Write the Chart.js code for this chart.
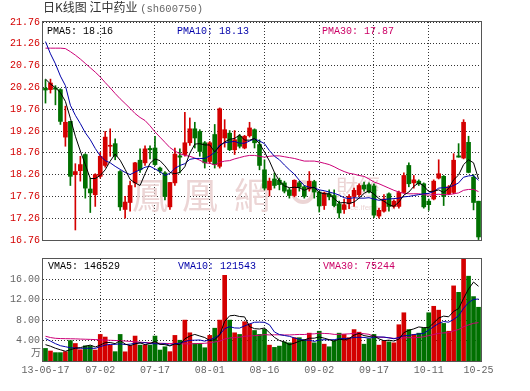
<!DOCTYPE html>
<html>
<head>
<meta charset="utf-8">
<title>日K线图 江中药业 (sh600750)</title>
<style>
  body { margin: 0; background: #fff; }
  .chart { position: relative; width: 530px; height: 391px; overflow: hidden; }
  .chart canvas { position: absolute; left: 0; }
  #price-chart { top: 0; }
  #vol-chart { top: 250px; }
  .label { position: absolute; font: 10px "Liberation Mono", monospace; line-height: 10px; white-space: pre; }
  .title { position: absolute; left: 43px; top: 0; font: 12px "Noto Sans CJK SC"; line-height: 13px; color: #333; white-space: pre; }
  .title span { font: 10.5px "Liberation Mono", monospace; color: #666; }
</style>
</head>
<body>
<div class="chart">
  <canvas id="price-chart" width="530" height="250"></canvas>
  <canvas id="vol-chart" width="530" height="141"></canvas>
  <div class="title">日K线图 江中药业 <span>(sh600750)</span></div>
  <div class="label" id="pma5" style="left:47px;top:27px;color:#000"></div>
  <div class="label" id="pma10" style="left:177px;top:27px;color:#0000aa"></div>
  <div class="label" id="pma30" style="left:322px;top:27px;color:#cc0066"></div>
  <div class="label" id="vma5" style="left:48px;top:262px;color:#000"></div>
  <div class="label" id="vma10" style="left:178px;top:262px;color:#0000aa"></div>
  <div class="label" id="vma30" style="left:323px;top:262px;color:#cc0066"></div>
</div>

<script src="https://cdn.jsdelivr.net/npm/chart.js"></script>
<script>
  // trading days, 2013-06-17 .. 2013-10-25
  const dates = [
    '06-17','06-18','06-19','06-20','06-21','06-24','06-25','06-26','06-27','06-28','07-01',
    '07-02','07-03','07-04','07-05','07-08','07-09','07-10','07-11','07-12','07-15','07-16',
    '07-17','07-18','07-19','07-22','07-23','07-24','07-25','07-26','07-29','07-30','07-31',
    '08-01','08-02','08-05','08-06','08-07','08-08','08-09','08-12','08-13','08-14','08-15',
    '08-16','08-19','08-20','08-21','08-22','08-23','08-26','08-27','08-28','08-29','08-30',
    '09-02','09-03','09-04','09-05','09-06','09-09','09-10','09-11','09-12','09-13','09-16',
    '09-17','09-18','09-23','09-24','09-25','09-26','09-27','09-30','10-08','10-09','10-10',
    '10-11','10-14','10-15','10-16','10-17','10-18','10-21','10-22','10-23','10-24','10-25'
  ];

  const open = [
    20.24, 20.21, 20.25, 20.21, 19.12, 19.48, 18.26, 18.35, 18.72, 17.93, 17.80,
    18.22, 18.47, 18.91, 18.97, 18.33, 17.46, 17.62, 18.07, 18.59, 18.53, 18.86,
    18.87, 18.41, 18.30, 17.52, 18.07, 18.69, 18.72, 18.99, 19.31, 19.25, 18.99,
    18.56, 19.18, 18.45, 19.10, 19.21, 18.83, 19.14, 18.87, 19.15, 19.29, 18.95,
    18.37, 17.91, 18.16, 18.13, 18.07, 17.91, 17.78, 18.07, 17.98, 17.93, 18.10,
    17.86, 17.55, 17.82, 17.78, 17.59, 17.46, 17.59, 17.76, 17.80, 18.02, 18.03,
    18.00, 17.31, 17.42, 17.82, 17.53, 17.53, 17.85, 18.47, 18.07, 18.11, 18.05,
    17.65, 17.70, 18.18, 18.22, 17.82, 17.85, 18.69, 18.64, 19.00, 18.20, 17.65
  ];
  const high = [
    20.44, 20.45, 20.30, 20.23, 19.83, 19.48, 18.51, 18.68, 18.74, 18.18, 18.28,
    18.77, 19.25, 19.31, 19.08, 18.35, 17.76, 18.11, 18.54, 18.85, 18.92, 18.92,
    19.14, 18.43, 18.33, 18.08, 18.87, 18.85, 19.69, 19.56, 19.46, 19.29, 19.02,
    19.02, 19.41, 19.79, 19.52, 19.27, 19.27, 19.18, 19.16, 19.46, 19.31, 19.06,
    18.60, 18.18, 18.30, 18.18, 18.11, 17.95, 18.14, 18.11, 18.01, 18.33, 18.13,
    17.88, 17.86, 17.91, 17.91, 17.65, 17.70, 17.80, 17.95, 18.05, 18.09, 18.07,
    18.05, 17.49, 17.80, 17.84, 17.68, 17.88, 18.30, 18.53, 18.24, 18.14, 18.07,
    17.70, 18.14, 18.60, 18.24, 18.01, 18.74, 18.97, 19.52, 19.14, 18.26, 17.65
  ];
  const low = [
    19.90, 20.13, 19.86, 19.41, 18.91, 18.01, 16.99, 18.11, 17.72, 17.39, 17.53,
    18.18, 18.43, 18.68, 18.60, 17.44, 17.26, 17.42, 17.98, 18.31, 18.47, 18.62,
    18.47, 18.30, 17.68, 17.46, 18.01, 18.30, 18.68, 18.93, 18.87, 18.68, 18.41,
    18.51, 18.41, 18.41, 18.89, 18.81, 18.72, 18.87, 18.85, 19.12, 18.87, 18.37,
    17.91, 17.77, 17.95, 17.91, 17.84, 17.72, 17.75, 17.88, 17.72, 17.88, 17.72,
    17.40, 17.46, 17.68, 17.52, 17.26, 17.37, 17.48, 17.53, 17.76, 17.88, 17.84,
    17.28, 17.26, 17.40, 17.42, 17.49, 17.49, 17.84, 17.98, 17.95, 18.01, 17.49,
    17.44, 17.68, 18.16, 17.55, 17.80, 17.82, 18.66, 18.62, 18.30, 17.45, 16.77
  ];
  const close = [
    20.20, 20.36, 20.22, 19.48, 19.46, 18.22, 18.33, 18.49, 17.95, 17.84, 18.26,
    18.68, 19.12, 18.93, 18.68, 17.52, 17.63, 18.01, 18.53, 18.37, 18.85, 18.83,
    18.49, 18.34, 17.76, 18.08, 18.73, 18.66, 18.99, 19.31, 19.10, 18.79, 18.53,
    18.99, 18.49, 19.77, 19.29, 18.83, 19.06, 18.91, 19.14, 19.33, 18.99, 18.47,
    17.95, 18.11, 18.01, 18.03, 17.88, 17.78, 18.13, 17.97, 17.76, 18.11, 17.86,
    17.54, 17.84, 17.75, 17.55, 17.38, 17.57, 17.76, 17.90, 18.01, 17.93, 17.86,
    17.33, 17.44, 17.70, 17.53, 17.65, 17.85, 18.24, 18.05, 18.14, 18.05, 17.52,
    17.57, 18.11, 18.28, 17.76, 17.98, 18.59, 18.66, 19.46, 18.31, 17.62, 16.83
  ];

  // moving averages
  const ma5 = [
    20.45, 20.34, 20.25, 20.14, 19.94, 19.55, 19.14, 18.80, 18.49, 18.17, 18.17,
    18.24, 18.37, 18.57, 18.73, 18.59, 18.38, 18.15, 18.07, 18.01, 18.28, 18.52,
    18.62, 18.58, 18.46, 18.31, 18.28, 18.31, 18.44, 18.75, 18.96, 18.97, 18.94,
    18.94, 18.78, 18.91, 19.01, 19.07, 19.09, 19.17, 19.05, 19.05, 19.09, 18.97,
    18.78, 18.57, 18.31, 18.11, 18.00, 17.96, 17.97, 17.96, 17.90, 17.95, 17.97,
    17.85, 17.82, 17.82, 17.71, 17.61, 17.62, 17.60, 17.63, 17.72, 17.83, 17.89,
    17.81, 17.71, 17.65, 17.57, 17.53, 17.63, 17.79, 17.86, 17.99, 18.07, 18.00,
    17.87, 17.88, 17.91, 17.85, 17.94, 18.14, 18.25, 18.49, 18.60, 18.53, 18.16
  ];
  const ma10 = [
    21.31, 21.03, 20.80, 20.52, 20.30, 19.85, 19.62, 19.43, 19.22, 19.06, 18.86,
    18.69, 18.58, 18.53, 18.45, 18.38, 18.31, 18.26, 18.32, 18.37, 18.43, 18.45,
    18.39, 18.33, 18.24, 18.29, 18.40, 18.47, 18.51, 18.61, 18.63, 18.63, 18.63,
    18.69, 18.77, 18.94, 18.99, 19.01, 19.02, 18.98, 18.98, 19.03, 19.08, 19.03,
    18.97, 18.81, 18.68, 18.60, 18.48, 18.37, 18.27, 18.13, 18.01, 17.97, 17.96,
    17.91, 17.89, 17.86, 17.83, 17.79, 17.73, 17.71, 17.73, 17.72, 17.72, 17.73,
    17.70, 17.67, 17.69, 17.70, 17.71, 17.72, 17.75, 17.76, 17.78, 17.80, 17.82,
    17.83, 17.87, 17.95, 17.96, 17.97, 18.01, 18.07, 18.20, 18.23, 18.24, 18.13
  ];
  const ma30 = [
    21.16, 21.16, 21.16, 21.16, 21.15, 21.08, 21.00, 20.91, 20.81, 20.71, 20.61,
    20.50, 20.37, 20.25, 20.12, 20.00, 19.89, 19.78, 19.66, 19.57, 19.50, 19.38,
    19.24, 19.12, 19.00, 18.88, 18.80, 18.74, 18.70, 18.68, 18.64, 18.59, 18.53,
    18.52, 18.48, 18.54, 18.57, 18.58, 18.62, 18.65, 18.68, 18.70, 18.70, 18.68,
    18.66, 18.68, 18.69, 18.69, 18.67, 18.65, 18.63, 18.60, 18.57, 18.57, 18.57,
    18.55, 18.52, 18.49, 18.44, 18.38, 18.33, 18.29, 18.27, 18.24, 18.22, 18.16,
    18.09, 18.05, 18.00, 17.95, 17.90, 17.86, 17.83, 17.82, 17.82, 17.82, 17.80,
    17.79, 17.80, 17.81, 17.80, 17.80, 17.82, 17.84, 17.90, 17.92, 17.92, 17.87
  ];

  // volume, in 万 (10k)
  const vol = [
    2.47, 1.96, 1.64, 1.64, 1.83, 4.00, 3.43, 2.21, 2.98, 2.98, 2.15,
    5.21, 4.70, 3.11, 1.83, 5.21, 1.80, 2.98, 4.89, 3.11, 3.11, 3.11,
    4.89, 2.15, 2.79, 1.83, 5.02, 4.07, 8.02, 5.53, 3.43, 3.43, 2.60,
    5.02, 6.43, 8.02, 16.80, 8.02, 5.53, 5.21, 7.70, 7.26, 5.98, 5.21,
    6.20, 3.11, 2.67, 2.92, 3.75, 3.56, 4.57, 4.57, 4.19, 5.46, 3.56,
    5.84, 3.30, 2.79, 3.94, 5.46, 5.21, 4.57, 6.16, 5.65, 3.30, 4.38,
    5.21, 3.11, 3.94, 3.75, 3.56, 7.11, 9.46, 6.16, 5.21, 5.46, 6.48,
    9.46, 10.73, 9.97, 7.37, 5.84, 14.73, 13.46, 19.94, 16.63, 12.63, 10.54
  ];
  const vma5 = [
    3.20, 2.90, 2.50, 2.20, 1.91, 2.21, 2.51, 2.62, 2.89, 3.12, 2.75,
    3.11, 3.60, 3.63, 3.40, 4.01, 3.33, 2.99, 3.34, 3.60, 3.18, 3.44,
    3.82, 3.27, 3.21, 2.95, 3.34, 3.17, 4.35, 4.89, 5.21, 4.90, 4.60,
    4.00, 4.18, 5.10, 7.77, 8.86, 8.96, 8.72, 8.65, 6.74, 6.34, 6.27,
    6.47, 5.55, 4.63, 4.02, 3.73, 3.20, 3.49, 3.87, 4.13, 4.47, 4.47,
    4.72, 4.47, 4.19, 3.89, 4.27, 4.14, 4.39, 5.07, 5.41, 4.98, 4.81,
    4.94, 4.33, 3.99, 4.08, 3.91, 4.29, 5.56, 6.01, 6.30, 6.68, 6.55,
    6.55, 7.47, 8.42, 8.80, 8.67, 9.73, 10.27, 12.27, 14.12, 15.48, 14.65
  ];
  const vma10 = [
    4.40, 3.90, 3.40, 3.00, 2.80, 2.60, 2.55, 2.50, 2.50, 2.51, 2.48,
    2.81, 3.11, 3.26, 3.26, 3.38, 3.22, 3.30, 3.49, 3.50, 3.60, 3.39,
    3.40, 3.31, 3.40, 3.07, 3.39, 3.50, 3.81, 4.05, 4.08, 4.12, 3.89,
    4.17, 4.54, 5.16, 6.34, 6.73, 6.48, 6.45, 6.88, 7.26, 7.60, 7.62,
    7.59, 7.10, 5.69, 5.18, 5.00, 4.84, 4.52, 4.25, 4.08, 4.10, 3.84,
    4.11, 4.17, 4.16, 4.18, 4.37, 4.43, 4.43, 4.63, 4.65, 4.62, 4.48,
    4.67, 4.70, 4.70, 4.53, 4.36, 4.62, 4.95, 5.00, 5.19, 5.30, 5.42,
    6.06, 6.74, 7.36, 7.74, 7.61, 8.14, 8.87, 10.34, 11.46, 12.08, 12.15
  ];
  const vma30 = [
    4.85, 4.60, 4.45, 4.40, 4.38, 4.36, 4.34, 4.30, 4.27, 4.24, 4.20,
    4.15, 4.10, 4.06, 4.02, 3.98, 3.92, 3.85, 3.78, 3.70, 3.62, 3.57,
    3.52, 3.48, 3.45, 3.42, 3.40, 3.38, 3.37, 3.36, 3.39, 3.44, 3.47,
    3.58, 3.73, 3.87, 4.31, 4.51, 4.59, 4.67, 4.85, 4.92, 4.96, 5.03,
    5.18, 5.11, 5.14, 5.14, 5.10, 5.11, 5.16, 5.21, 5.19, 5.30, 5.32,
    5.46, 5.40, 5.36, 5.22, 5.22, 5.28, 5.32, 5.43, 5.45, 5.35, 5.23,
    4.84, 4.68, 4.63, 4.58, 4.44, 4.43, 4.55, 4.58, 4.55, 4.63, 4.75,
    4.97, 5.21, 5.42, 5.51, 5.55, 5.91, 6.17, 6.72, 7.08, 7.39, 7.52
  ];

  const priceTicks = [16.76, 17.26, 17.76, 18.26, 18.76, 19.26, 19.76, 20.26, 20.76, 21.26, 21.76];
  const volTicks = [4, 8, 12, 16];
  const tickIdx = [0, 11, 22, 33, 44, 55, 66, 77, 87];
  const tickText = ['13-06-17', '07-02', '07-17', '08-01', '08-16', '09-02', '09-17', '10-11', '10-25'];
  const priceLegend = ['18.16', '18.13', '17.87'];
  const volLegend = ['146529', '121543', '75244'];

  [open, high, low, close, ma5, ma10, ma30, vol, vma5, vma10, vma30].forEach((a, k) => {
    if (a.length !== dates.length) throw new Error('series ' + k + ' has ' + a.length + ' values');
  });

  const RED = '#d40000', GREEN = '#007000';
  const C5 = '#000000', C10 = '#0000aa', C30 = '#cc0077';
  const GRID = '#333';
  const MONO = 'Liberation Mono';
  const candleColor = close.map((c, i) => c >= open[i] ? RED : GREEN);
  const gridIdx = tickIdx.slice(1, -1);

  document.getElementById('pma5').textContent = 'PMA5: ' + priceLegend[0];
  document.getElementById('pma10').textContent = 'PMA10: ' + priceLegend[1];
  document.getElementById('pma30').textContent = 'PMA30: ' + priceLegend[2];
  document.getElementById('vma5').textContent = 'VMA5: ' + volLegend[0];
  document.getElementById('vma10').textContent = 'VMA10: ' + volLegend[1];
  document.getElementById('vma30').textContent = 'VMA30: ' + volLegend[2];

  const frame = {
    id: 'frame',
    afterDatasetsDraw(chart) {
      const { ctx, chartArea: a } = chart;
      ctx.save();
      ctx.strokeStyle = '#555';
      ctx.lineWidth = 1;
      ctx.strokeRect(Math.round(a.left) - 0.5, Math.round(a.top) - 0.5,
        Math.round(a.right - a.left) + 1, Math.round(a.bottom - a.top) + 1);
      ctx.restore();
    }
  };

  const watermark = {
    id: 'watermark',
    beforeDatasetsDraw(chart) {
      const ctx = chart.ctx;
      ctx.save();
      ctx.fillStyle = '#ecd5d5';
      ctx.strokeStyle = '#ecd5d5';
      ctx.textAlign = 'center';
      ctx.textBaseline = 'middle';
      ctx.font = '36px "Noto Sans CJK TC"';
      ctx.fillText('鳳', 150, 195);
      ctx.fillText('凰', 200, 195);
      ctx.fillText('網', 252, 195);
      ctx.lineWidth = 4;
      ctx.beginPath();
      ctx.arc(303, 192, 10, 0, Math.PI * 2);
      ctx.stroke();
      ctx.font = '22px "Noto Sans CJK TC"';
      ctx.fillText('財經', 358, 187);
      ctx.font = '8px "Liberation Sans"';
      ctx.fillText('finance.ifeng.com', 364, 208);
      ctx.restore();
    }
  };

  const xGrid = {
    offset: false,
    drawTicks: false,
    color: ctx => gridIdx.includes(ctx.index) ? GRID : 'rgba(0,0,0,0)'
  };
  const line = (data, color) => ({
    type: 'line', data, borderColor: color, borderWidth: 1,
    pointRadius: 0, tension: 0, order: 0
  });

  new Chart(document.getElementById('price-chart'), {
    type: 'bar',
    data: {
      labels: dates,
      datasets: [
        line(ma5, C5),
        line(ma10, C10),
        line(ma30, C30),
        {
          data: open.map((o, i) => [o, close[i]]),
          backgroundColor: candleColor,
          barThickness: 4, minBarLength: 1, grouped: false, order: 2
        },
        {
          data: low.map((l, i) => [l, high[i]]),
          backgroundColor: candleColor,
          barThickness: 1, grouped: false, order: 3
        }
      ]
    },
    options: {
      responsive: false,
      animation: false,
      devicePixelRatio: 1,
      layout: { padding: { left: 0, right: 49, top: 22, bottom: 10 } },
      plugins: { legend: { display: false }, tooltip: { enabled: false } },
      scales: {
        x: {
          offset: true,
          grid: xGrid,
          border: { display: false, dash: [1, 2] },
          ticks: { display: false, autoSkip: false },
          afterFit: s => { s.height = 0; }
        },
        y: {
          min: 16.76, max: 21.76,
          afterBuildTicks: s => { s.ticks = priceTicks.map(v => ({ value: v })); },
          ticks: { color: RED, font: { family: MONO, size: 10 }, padding: 3, callback: v => v.toFixed(2) },
          grid: { color: GRID, drawTicks: false },
          border: { display: false, dash: [1, 2] },
          afterFit: s => { s.width = 43; }
        }
      }
    },
    plugins: [watermark, frame]
  });

  const unitLabel = {
    id: 'unitLabel',
    afterDraw(chart) {
      const ctx = chart.ctx;
      ctx.save();
      ctx.fillStyle = '#666';
      ctx.font = '10px "Noto Sans CJK SC"';
      ctx.textAlign = 'right';
      ctx.textBaseline = 'middle';
      ctx.fillText('万', 41, chart.chartArea.bottom - 9);
      ctx.restore();
    }
  };

  new Chart(document.getElementById('vol-chart'), {
    type: 'bar',
    data: {
      labels: dates,
      datasets: [
        line(vma5, C5),
        line(vma10, C10),
        line(vma30, C30),
        { data: vol, backgroundColor: candleColor, barThickness: 4, order: 2 }
      ]
    },
    options: {
      responsive: false,
      animation: false,
      devicePixelRatio: 1,
      layout: { padding: { left: 0, right: 49, top: 7, bottom: 0 } },
      plugins: { legend: { display: false }, tooltip: { enabled: false } },
      scales: {
        x: {
          offset: true,
          grid: xGrid,
          border: { display: false, dash: [1, 2] },
          ticks: {
            autoSkip: false, maxRotation: 0, minRotation: 0, padding: 3,
            color: '#666', font: { family: MONO, size: 10 },
            callback: (v, i) => { const k = tickIdx.indexOf(i); return k >= 0 ? tickText[k] : ''; }
          },
          afterFit: s => { s.height = 30; }
        },
        y: {
          min: 0, max: 20,
          afterBuildTicks: s => { s.ticks = volTicks.map(v => ({ value: v })); },
          ticks: { color: '#666', font: { family: MONO, size: 10 }, padding: 3, callback: v => v.toFixed(2) },
          grid: { color: GRID, drawTicks: false },
          border: { display: false, dash: [1, 2] },
          afterFit: s => { s.width = 43; }
        }
      }
    },
    plugins: [frame, unitLabel]
  });
</script>
</body>
</html>
